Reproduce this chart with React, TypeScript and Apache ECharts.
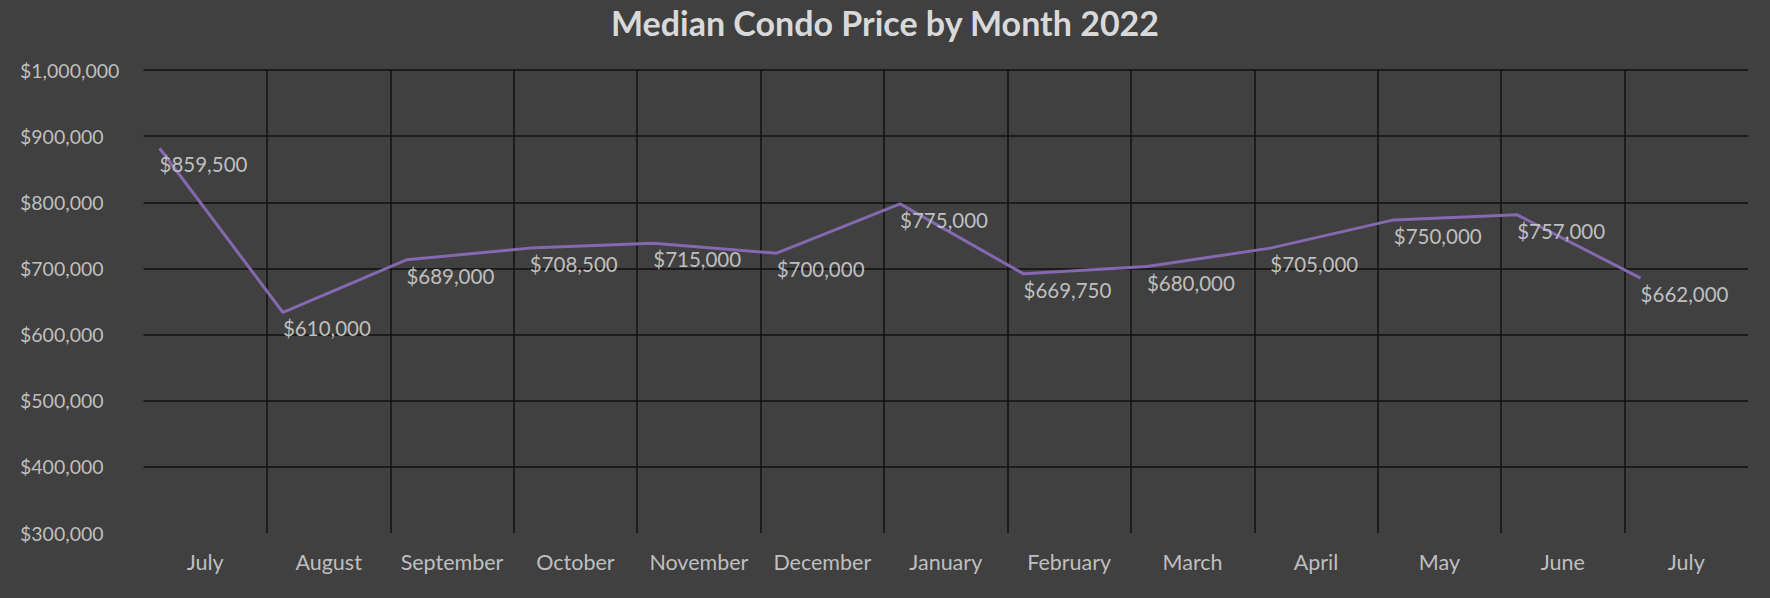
import React, { useEffect, useRef } from "react";
import * as echarts from "echarts";

const months = [
  "July", "August", "September", "October", "November", "December",
  "January", "February", "March", "April", "May", "June", "July",
];
// Values shown in the data labels
const labelValues = [
  859500, 610000, 689000, 708500, 715000, 700000,
  775000, 669750, 680000, 705000, 750000, 757000, 662000,
];
// Where the line is actually drawn
const plottedValues = [
  881700, 633400, 713000, 730700, 738000, 723000,
  797600, 691800, 702900, 730700, 773400, 781000, 685300,
];
const yTicks = { min: 300000, max: 1000000, interval: 100000 };
const pointOffset = 0.13;

const fmt = (v: number) => "$" + v.toLocaleString("en-US");

export default function App() {
  const ref = useRef<HTMLDivElement>(null);
  useEffect(() => {
    if (!ref.current) return;
    const chart = echarts.init(ref.current, undefined, { renderer: "svg" });
    const font = "Lato";
    chart.setOption({
      animation: false,
      backgroundColor: "#404040",
      title: {
        text: "Median Condo Price by Month 2022",
        left: "center",
        top: 0,
        textStyle: { color: "#d9d9d9", fontSize: 34, fontWeight: "bold", fontFamily: font },
      },
      grid: { left: 143.5, right: 22, top: 70, bottom: 65, containLabel: false },
      xAxis: [
        {
          type: "category",
          data: months,
          boundaryGap: true,
          axisLine: { show: false },
          axisTick: { show: false },
          axisLabel: { color: "#bfbfbf", fontSize: 21.5, fontFamily: font, margin: 18, interval: 0 },
          splitLine: {
            show: true,
            showMinLine: false,
            showMaxLine: false,
            lineStyle: { color: "#111111", width: 1.5 },
          },
        },
        {
          type: "value",
          min: 0,
          max: months.length,
          show: false,
        },
      ],
      yAxis: {
        type: "value",
        min: yTicks.min,
        max: yTicks.max,
        interval: yTicks.interval,
        axisLine: { show: false },
        axisTick: { show: false },
        axisLabel: {
          color: "#bfbfbf",
          fontSize: 19.5,
          fontFamily: font,
          align: "left",
          margin: 123.5,
          formatter: (v: number) => fmt(v),
        },
        splitLine: {
          show: true,
          showMinLine: false,
          lineStyle: { color: "#111111", width: 1.5 },
        },
      },
      series: [
        {
          type: "line",
          xAxisIndex: 1,
          data: plottedValues.map((v, i) => ({
            value: [i + pointOffset, v],
            label: { formatter: fmt(labelValues[i]) },
          })),
          symbol: "circle",
          symbolSize: 2,
          itemStyle: { color: "rgba(0,0,0,0)" },
          lineStyle: { color: "#8468b0", width: 3 },
          label: {
            show: true,
            position: [1, 17],
            align: "left",
            verticalAlign: "middle",
            color: "#bfbfbf",
            fontSize: 20.5,
            fontFamily: font,
          },
        },
      ],
    });
    return () => chart.dispose();
  }, []);
  return (
    <div
      ref={ref}
      style={{ position: "fixed", left: 0, top: 0, width: 1770, height: 598 }}
    />
  );
}
